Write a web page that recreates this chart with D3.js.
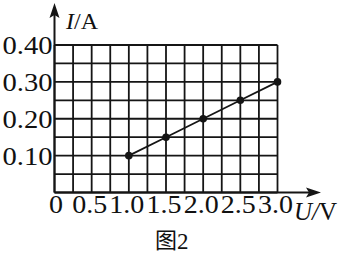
<!DOCTYPE html>
<html>
<head>
<script src="https://cdn.jsdelivr.net/npm/d3@7"></script>
<style type="text/css">
  body { margin: 0; background: #fff; }
  text { font-family: "Liberation Serif", "Times New Roman", serif; fill: #111; }
</style>
</head>
<body>
<script type="text/javascript">

// data
var voltage = [1.0, 1.5, 2.0, 2.5, 3.0];
var current = [0.10, 0.15, 0.20, 0.25, 0.30];

var xGrid = [0, 0.25, 0.5, 0.75, 1.0, 1.25, 1.5, 1.75, 2.0, 2.25, 2.5, 2.75, 3.0];
var yGrid = [0, 0.05, 0.10, 0.15, 0.20, 0.25, 0.30, 0.35, 0.40];
var xTickValues = [0.5, 1.0, 1.5, 2.0, 2.5, 3.0];
var xTickLabels = ["0.5", "1.0", "1.5", "2.0", "2.5", "3.0"];
var yTickValues = [0.10, 0.20, 0.30, 0.40];
var yTickLabels = ["0.10", "0.20", "0.30", "0.40"];

var width = 341, height = 254;

var svg = d3.select("body").append("svg")
    .attr("width", width)
    .attr("height", height);

var x = d3.scaleLinear().domain([0, 3]).range([54.5, 277.5]);
var y = d3.scaleLinear().domain([0, 0.4]).range([192.5, 45]);

var ink = "#151515";

// grid
svg.selectAll(".vgrid").data(xGrid).enter().append("line")
    .attr("class", "vgrid")
    .attr("x1", function(d) { return x(d); })
    .attr("x2", function(d) { return x(d); })
    .attr("y1", y(0.4))
    .attr("y2", y(0))
    .attr("stroke", ink)
    .attr("stroke-width", 1.8);

svg.selectAll(".hgrid").data(yGrid).enter().append("line")
    .attr("class", "hgrid")
    .attr("x1", x(0))
    .attr("x2", x(3))
    .attr("y1", function(d) { return y(d); })
    .attr("y2", function(d) { return y(d); })
    .attr("stroke", ink)
    .attr("stroke-width", 1.8);

// axes with arrows
svg.append("line")
    .attr("x1", x(0)).attr("x2", 314)
    .attr("y1", y(0)).attr("y2", y(0))
    .attr("stroke", ink).attr("stroke-width", 2);
svg.append("path")
    .attr("d", "M321," + y(0) + "L306," + (y(0) - 5) + "L309," + y(0) + "L306," + (y(0) + 5) + "Z")
    .attr("fill", ink);

svg.append("line")
    .attr("x1", x(0)).attr("x2", x(0))
    .attr("y1", y(0)).attr("y2", 10)
    .attr("stroke", ink).attr("stroke-width", 2);
svg.append("path")
    .attr("d", "M" + x(0) + ",3L" + (x(0) - 5) + ",18L" + x(0) + ",15L" + (x(0) + 5) + ",18Z")
    .attr("fill", ink);

// data line + points
var pts = voltage.map(function(v, i) { return [x(v), y(current[i])]; });
svg.append("path")
    .attr("d", d3.line()(pts))
    .attr("fill", "none")
    .attr("stroke", ink)
    .attr("stroke-width", 1.8);

svg.selectAll(".dot").data(pts).enter().append("circle")
    .attr("class", "dot")
    .attr("cx", function(d) { return d[0]; })
    .attr("cy", function(d) { return d[1]; })
    .attr("r", 3.8)
    .attr("fill", ink);

// y tick labels
svg.selectAll(".ylab").data(yTickValues).enter().append("text")
    .attr("class", "ylab")
    .attr("transform", function(d) { return "translate(52.5," + (y(d) + 9) + ") scale(1.1,1)"; })
    .attr("text-anchor", "end")
    .attr("font-size", 26)
    .text(function(d, i) { return yTickLabels[i]; });

// x tick labels
svg.append("text")
    .attr("transform", "translate(56,212.5) scale(1.12,1)")
    .attr("text-anchor", "middle")
    .attr("font-size", 25)
    .text("0");

svg.selectAll(".xlab").data(xTickValues).enter().append("text")
    .attr("class", "xlab")
    .attr("transform", function(d) { return "translate(" + (x(d) - 2) + ",212.5) scale(1.12,1)"; })
    .attr("text-anchor", "middle")
    .attr("font-size", 25)
    .text(function(d, i) { return xTickLabels[i]; });

// axis titles
var yt = svg.append("text")
    .attr("x", 66).attr("y", 29)
    .attr("font-size", 24);
yt.append("tspan").attr("font-style", "italic").text("I");
yt.append("tspan").text("/A");

var xt = svg.append("text")
    .attr("x", 294).attr("y", 220)
    .attr("font-size", 25);
xt.append("tspan").attr("font-style", "italic").text("U");
xt.append("tspan").attr("font-style", "italic").text("/");
xt.append("tspan").text("V");

// caption
svg.append("text")
    .attr("x", 155).attr("y", 248)
    .attr("font-size", 22)
    .style("font-family", "'Noto Sans CJK SC', sans-serif")
    .text("图");
svg.append("text")
    .attr("x", 177).attr("y", 249)
    .attr("font-size", 23)
    .text("2");

</script>
</body>
</html>
